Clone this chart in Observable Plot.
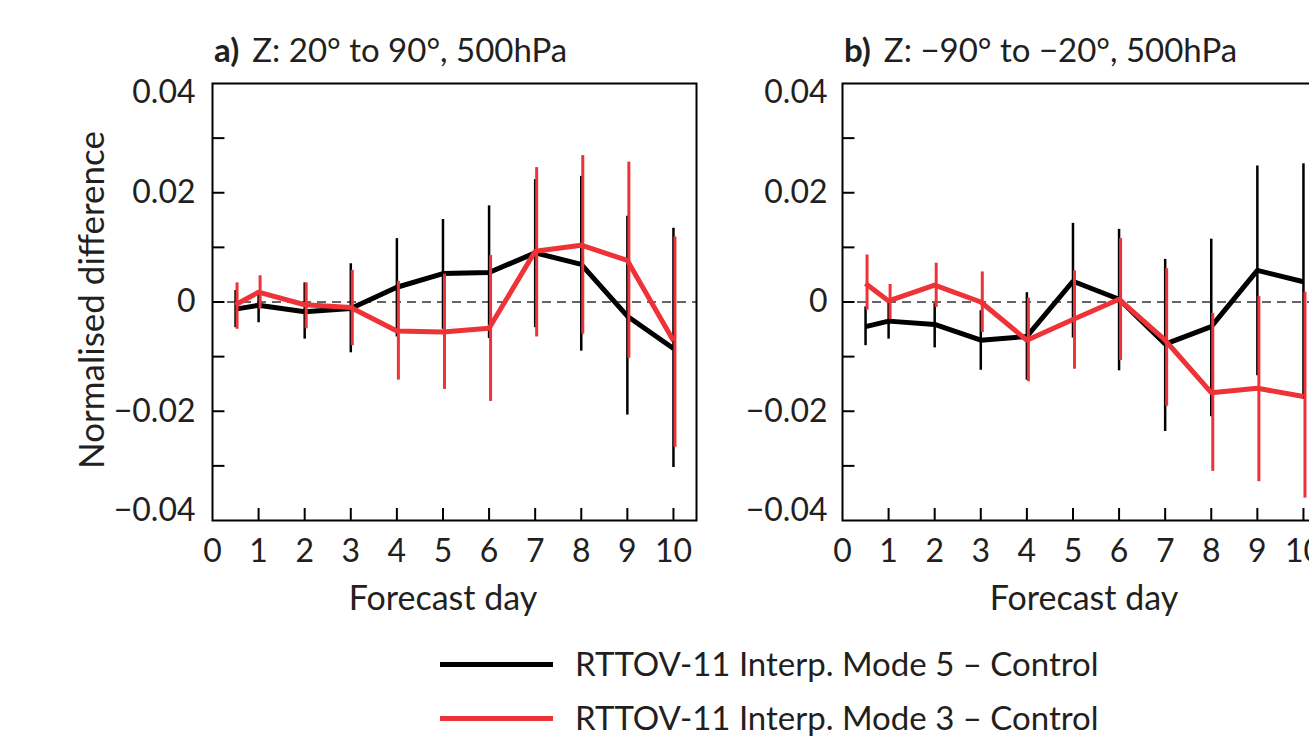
<!DOCTYPE html>
<html>
<head>
<meta charset="utf-8">
<script src="https://cdn.jsdelivr.net/npm/d3@7"></script>
<script src="https://cdn.jsdelivr.net/npm/@observablehq/plot@0.6"></script>
<style>
  html, body { margin: 0; padding: 0; background: #fff; }
  body { width: 1309px; height: 737px; position: relative; overflow: hidden; font-family: Lato, "Open Sans", sans-serif; color: #231f20; }
  .abs { position: absolute; white-space: nowrap; line-height: 1; }
  .panel { width: 700px; height: 620px; }
  .panel svg { max-width: none !important; }
  .title { font-size: 33px; }
  .title b { font-weight: 700; margin-right: 13px; }
  .xlab { font-size: 34px; text-align: center; width: 400px; }
  .ylab { font-size: 35px; transform: translate(-50%, -50%) rotate(-90deg); }
  .leg { font-size: 33px; }
  .legline { position: absolute; height: 5px; width: 113px; }
</style>
</head>
<body>
<div id="panelA" class="abs panel" style="left:0px; top:0px;"></div>
<div id="panelB" class="abs panel" style="left:630px; top:0px;"></div>
<div class="abs title" style="left:214px; top:33px;"><b>a)</b>Z: 20° to 90°, 500hPa</div>
<div class="abs title" style="left:844px; top:33px;"><b>b)</b>Z: −90° to −20°, 500hPa</div>
<div class="abs ylab" style="left:90px; top:300px;">Normalised difference</div>
<div class="abs xlab" style="left:243px; top:580px;">Forecast day</div>
<div class="abs xlab" style="left:884px; top:580px;">Forecast day</div>
<div id="legend"></div>
<script>
// ---- data ----
const days = [0.5, 1, 2, 3, 4, 5, 6, 7, 8, 9, 10];
const seriesNames = ["RTTOV-11 Interp. Mode 5 \u2013 Control", "RTTOV-11 Interp. Mode 3 \u2013 Control"];
const seriesColors = ["#000000", "#ee3338"];
const yTicksInner = [-0.02, 0, 0.02];
const yTickTop = [0.04];
const yTickBottom = [-0.04];
const yMinorTicks = [-0.03, -0.02, -0.01, 0, 0.01, 0.02, 0.03];
const xTickLabels = [0, 1, 2, 3, 4, 5, 6, 7, 8, 9, 10];
const xMinorTicks = [1, 2, 3, 4, 5, 6, 7, 8, 9, 10];

// Panel a: Z 20° to 90°, 500hPa
const aMode5   = [-0.0013, -0.0006, -0.0018, -0.0012, 0.0027, 0.0052, 0.0054, 0.0090, 0.0069, -0.0026, -0.0085];
const aMode5Hi = [0.0021, 0.0021, 0.0035, 0.0070, 0.0116, 0.0151, 0.0176, 0.0224, 0.0230, 0.0157, 0.0135];
const aMode5Lo = [-0.0047, -0.0038, -0.0068, -0.0093, -0.0064, -0.0050, -0.0067, -0.0047, -0.0090, -0.0207, -0.0303];
const aMode3   = [-0.0005, 0.0018, -0.0005, -0.0010, -0.0053, -0.0055, -0.0048, 0.0093, 0.0104, 0.0076, -0.0071];
const aMode3Hi = [0.0035, 0.0048, 0.0035, 0.0058, 0.0038, 0.0051, 0.0085, 0.0246, 0.0268, 0.0256, 0.0119];
const aMode3Lo = [-0.0050, -0.0013, -0.0049, -0.0080, -0.0143, -0.0160, -0.0182, -0.0064, -0.0059, -0.0103, -0.0266];

// Panel b: Z -90° to -20°, 500hPa
const bMode5   = [-0.0045, -0.0035, -0.0041, -0.0070, -0.0063, 0.0038, 0.0005, -0.0077, -0.0045, 0.0058, 0.0037];
const bMode5Hi = [-0.0009, 0.0005, -0.0003, -0.0016, 0.0017, 0.0144, 0.0133, 0.0078, 0.0115, 0.0249, 0.0253];
const bMode5Lo = [-0.0080, -0.0068, -0.0084, -0.0125, -0.0143, -0.0066, -0.0126, -0.0237, -0.0210, -0.0135, -0.0178];
const bMode3   = [0.0034, 0.0002, 0.0031, 0.0000, -0.0070, -0.0032, 0.0005, -0.0070, -0.0166, -0.0158, -0.0173];
const bMode3Hi = [0.0086, 0.0032, 0.0071, 0.0055, 0.0007, 0.0057, 0.0116, 0.0061, -0.0021, 0.0010, 0.0018];
const bMode3Lo = [-0.0015, -0.0032, -0.0010, -0.0056, -0.0146, -0.0123, -0.0107, -0.0191, -0.0310, -0.0329, -0.0359];

// ---- drawing ----
const fmt = d => d === 0 ? "0" : (d < 0 ? "\u2212" : "") + Math.abs(d).toFixed(2);
const rows = (v, hi, lo) => days.map((day, i) => ({day, v: v[i], hi: hi[i], lo: lo[i]}));

function panel(s5, hi5, lo5, s3, hi3, lo3, padY) {
  const r5 = rows(s5, hi5, lo5), r3 = rows(s3, hi3, lo3);
  const yAxisOpts = {tickSize: 0, tickPadding: padY, tickFormat: fmt, fontSize: 32, label: null};
  return Plot.plot({
    width: 700, height: 620,
    marginLeft: 212, marginRight: 4, marginTop: 83, marginBottom: 100,
    x: {domain: [0, 10.5], axis: null},
    y: {domain: [-0.04, 0.04], axis: null},
    style: {fontFamily: "Lato, 'Open Sans', sans-serif", fontSize: "32px", color: "#231f20", background: "transparent", overflow: "visible", maxWidth: "none"},
    marks: [
      Plot.ruleY([0], {stroke: "#333", strokeWidth: 1.6, strokeDasharray: "9,6"}),
      Plot.ruleY(yMinorTicks, {y: d => d, x1: 0, x2: 0.27, stroke: "#000", strokeWidth: 2}),
      Plot.ruleX(xMinorTicks, {x: d => d, y1: -0.04, y2: -0.0378, stroke: "#000", strokeWidth: 2}),
      Plot.axisY({...yAxisOpts, ticks: yTicksInner}),
      Plot.axisY({...yAxisOpts, ticks: yTickTop, dy: 9}),
      Plot.axisY({...yAxisOpts, ticks: yTickBottom, dy: -10}),
      Plot.axisX({ticks: xTickLabels, tickSize: 0, tickPadding: 19, tickFormat: d => String(d), fontSize: 32, label: null}),
      Plot.frame({stroke: "#000", strokeWidth: 2}),
      Plot.line(r5, {x: "day", y: "v", stroke: seriesColors[0], strokeWidth: 5, strokeLinejoin: "miter", strokeLinecap: "butt"}),
      Plot.ruleX(r5, {x: "day", y1: "lo", y2: "hi", stroke: seriesColors[0], strokeWidth: 2.5}),
      Plot.line(r3, {x: "day", y: "v", stroke: seriesColors[1], strokeWidth: 5, strokeLinejoin: "miter", strokeLinecap: "butt"}),
      Plot.ruleX(r3, {x: "day", y1: "lo", y2: "hi", dx: 1.5, stroke: seriesColors[1], strokeWidth: 3})
    ]
  });
}

document.getElementById("panelA").append(panel(aMode5, aMode5Hi, aMode5Lo, aMode3, aMode3Hi, aMode3Lo, 17));
document.getElementById("panelB").append(panel(bMode5, bMode5Hi, bMode5Lo, bMode3, bMode3Hi, bMode3Lo, 15));

// legend
const legend = document.getElementById("legend");
const legY = [664, 718];
seriesNames.forEach((name, i) => {
  const line = document.createElement("div");
  line.className = "legline";
  line.style.left = "440px";
  line.style.top = (legY[i] - 2.5) + "px";
  line.style.background = seriesColors[i];
  legend.append(line);
  const t = document.createElement("div");
  t.className = "abs leg";
  t.style.left = "575px";
  t.style.top = (legY[i] - 17) + "px";
  t.textContent = name;
  legend.append(t);
});
</script>
</body>
</html>
